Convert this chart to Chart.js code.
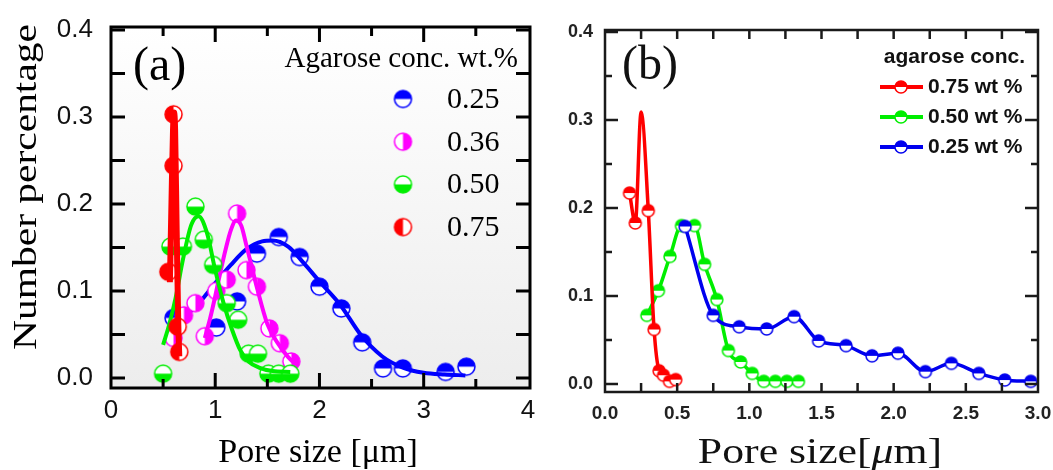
<!DOCTYPE html>
<html>
<head>
<meta charset="utf-8">
<title>Pore size distributions</title>
<script src="https://cdn.jsdelivr.net/npm/chart.js@4.4.1/dist/chart.umd.min.js"></script>
<style>
  body { margin: 0; background: #fff; }
  .panels { position: relative; width: 1053px; height: 470px; }
  #chartA { position: absolute; left: 0; top: 0; }
  #chartB { position: absolute; left: 545px; top: 0; }
</style>
</head>
<body>
<div class="panels">
  <canvas id="chartA" width="548" height="470"></canvas>
  <canvas id="chartB" width="508" height="470"></canvas>
</div>
<script>
// ---------- panel (a): measured points ----------
const a25x = [0.60, 1.01, 1.21, 1.40, 1.61, 1.81, 2.00, 2.21, 2.41, 2.61, 2.80, 3.21, 3.41];
const a25y = [0.069, 0.058, 0.088, 0.143, 0.162, 0.139, 0.105, 0.080, 0.041, 0.011, 0.011, 0.007, 0.013];
const a36x = [0.60, 0.70, 0.81, 0.90, 1.01, 1.11, 1.21, 1.30, 1.40, 1.52, 1.62, 1.73];
const a36y = [0.046, 0.072, 0.086, 0.048, 0.100, 0.113, 0.189, 0.124, 0.105, 0.057, 0.040, 0.019];
const a50x = [0.50, 0.57, 0.69, 0.81, 0.89, 0.98, 1.11, 1.22, 1.32, 1.41, 1.51, 1.61, 1.72];
const a50y = [0.005, 0.151, 0.151, 0.197, 0.159, 0.130, 0.086, 0.067, 0.028, 0.028, 0.005, 0.005, 0.005];
const a75x = [0.55, 0.60, 0.60, 0.64, 0.655];
const a75y = [0.122, 0.244, 0.303, 0.059, 0.030];

// ---------- panel (a): fitted curves ----------
const fit25x = [0.57, 0.70, 0.85, 1.00, 1.15, 1.30, 1.45, 1.55, 1.70, 1.85, 2.00, 2.20, 2.40, 2.60, 2.80, 3.00, 3.20, 3.40];
const fit25y = [0.056, 0.070, 0.087, 0.109, 0.130, 0.148, 0.157, 0.158, 0.151, 0.132, 0.111, 0.084, 0.049, 0.025, 0.012, 0.006, 0.004, 0.003];
const fit36x = [0.90, 0.95, 1.00, 1.05, 1.10, 1.15, 1.20, 1.25, 1.30, 1.35, 1.40, 1.50, 1.60, 1.70, 1.78];
const fit36y = [0.046, 0.068, 0.094, 0.122, 0.148, 0.170, 0.181, 0.175, 0.152, 0.128, 0.104, 0.062, 0.040, 0.024, 0.015];
const fit50x = [0.50, 0.56, 0.62, 0.69, 0.77, 0.84, 0.92, 1.00, 1.08, 1.16, 1.24, 1.32, 1.42, 1.55, 1.72];
const fit50y = [0.038, 0.062, 0.092, 0.136, 0.176, 0.186, 0.167, 0.124, 0.086, 0.056, 0.032, 0.019, 0.012, 0.008, 0.007];
const fit75x = [0.565, 0.580, 0.595, 0.605, 0.615, 0.630, 0.645, 0.655];
const fit75y = [0.110, 0.200, 0.285, 0.305, 0.285, 0.170, 0.065, 0.025];

// ---------- panel (b): measured points (joined) ----------
const b75x = [0.17, 0.21, 0.25, 0.30, 0.34, 0.375, 0.405, 0.447, 0.49];
const b75y = [0.217, 0.183, 0.309, 0.197, 0.062, 0.015, 0.010, 0.003, 0.005];
const b50x = [0.29, 0.37, 0.45, 0.53, 0.62, 0.69, 0.775, 0.855, 0.94, 1.02, 1.10, 1.18, 1.26, 1.34];
const b50y = [0.078, 0.106, 0.145, 0.180, 0.180, 0.136, 0.096, 0.038, 0.025, 0.012, 0.003, 0.003, 0.003, 0.003];
const b25x = [0.555, 0.75, 0.93, 1.12, 1.31, 1.48, 1.67, 1.85, 2.03, 2.22, 2.40, 2.59, 2.77, 2.95];
const b25y = [0.179, 0.078, 0.065, 0.0625, 0.0765, 0.049, 0.0436, 0.032, 0.035, 0.014, 0.0235, 0.012, 0.0045, 0.003];

// ---------- labels and ticks ----------
const aLegendTitle = 'Agarose conc. wt.%';
const aLegendLabels = ['0.25', '0.36', '0.50', '0.75'];
const bLegendTitle = 'agarose conc.';
const bLegendLabels = ['0.75 wt %', '0.50 wt %', '0.25 wt %'];
const aXTicks = [0, 1, 2, 3, 4];
const aXMinor = [0.5, 1.5, 2.5, 3.5];
const aYTicks = [0, 0.1, 0.2, 0.3, 0.4];
const aYMinor = [0, 0.05, 0.1, 0.15, 0.2, 0.25, 0.3, 0.35, 0.4];
const bXTicks = [0, 0.5, 1.0, 1.5, 2.0, 2.5, 3.0];
const bXMinor = [0.25, 0.5, 0.75, 1.0, 1.25, 1.5, 1.75, 2.0, 2.25, 2.5, 2.75];
const bYTicks = [0, 0.1, 0.2, 0.3, 0.4];
const bYMinor = [0.05, 0.15, 0.25, 0.35];

const serif = "'Liberation Serif', 'Times New Roman', serif";
const sans = "'Liberation Sans', Arial, sans-serif";

function pts(xs, ys) {
    return xs.map((x, i) => ({ x: x, y: ys[i] }));
}

// half filled circle used as point style
function halfDot(color, side, r) {
    const c = document.createElement('canvas');
    const s = Math.ceil(2 * r + 4);
    c.width = c.height = s;
    const g = c.getContext('2d');
    const m = s / 2;
    g.beginPath();
    g.arc(m, m, r, 0, 2 * Math.PI);
    g.fillStyle = '#fff';
    g.fill();
    const start = { top: Math.PI, bottom: 0, left: Math.PI / 2, right: -Math.PI / 2 }[side];
    g.beginPath();
    g.moveTo(m, m);
    g.arc(m, m, r, start, start + Math.PI);
    g.closePath();
    g.fillStyle = color;
    g.fill();
    g.beginPath();
    g.arc(m, m, r, 0, 2 * Math.PI);
    g.lineWidth = 1.5;
    g.strokeStyle = color;
    g.stroke();
    return c;
}

function fixTicks(values) {
    return function(scale) {
        scale.ticks = values.map(v => ({ value: v }));
    };
}

// fixed box sizes, no extra room for the end labels
function fixSize(prop, size) {
    return function(s) {
        s[prop] = size;
        s.paddingLeft = s.paddingRight = s.paddingTop = s.paddingBottom = 0;
    };
}

function innerTicks(ctx, chart, axis, values, len) {
    const area = chart.chartArea;
    const scale = chart.scales[axis];
    ctx.beginPath();
    values.forEach(v => {
        const p = scale.getPixelForValue(v);
        if (axis === 'x') {
            ctx.moveTo(p, area.top); ctx.lineTo(p, area.top + len);
            ctx.moveTo(p, area.bottom); ctx.lineTo(p, area.bottom - len);
        } else {
            ctx.moveTo(area.left, p); ctx.lineTo(area.left + len, p);
            ctx.moveTo(area.right, p); ctx.lineTo(area.right - len, p);
        }
    });
    ctx.stroke();
}

const BLUE = '#0000ff', MAGENTA = '#ff00ff', GREEN = '#00ee00', RED = '#ff0000';

const dotsA = {
    d25: halfDot(BLUE, 'top', 8.5),
    d36: halfDot(MAGENTA, 'right', 8.5),
    d50: halfDot(GREEN, 'bottom', 8.5),
    d75: halfDot(RED, 'left', 8.5)
};
const dotsB = {
    d75: halfDot(RED, 'top', 6),
    d50: halfDot(GREEN, 'top', 6),
    d25: halfDot('#0000ee', 'top', 6)
};

function fitLine(label, xs, ys, color, width) {
    return {
        label: label, data: pts(xs, ys), showLine: true,
        borderColor: color, borderWidth: width, pointRadius: 0,
        cubicInterpolationMode: 'monotone', fill: false
    };
}
function dotSet(label, xs, ys, img) {
    return {
        label: label, data: pts(xs, ys), showLine: false,
        pointStyle: img, pointRadius: 8, pointHoverRadius: 8
    };
}

// ---------- panel (a) ----------
const decorA = {
    id: 'decorA',
    beforeDatasetsDraw(chart) {
        const ctx = chart.ctx, a = chart.chartArea;
        const grad = ctx.createLinearGradient(0, a.top, 0, a.bottom);
        grad.addColorStop(0, '#ffffff');
        grad.addColorStop(1, '#ededed');
        ctx.save();
        ctx.fillStyle = grad;
        ctx.fillRect(a.left, a.top, a.right - a.left, a.bottom - a.top);
        ctx.restore();
    },
    afterDatasetsDraw(chart) {
        const ctx = chart.ctx, a = chart.chartArea;
        ctx.save();
        ctx.strokeStyle = '#000';
        ctx.lineWidth = 3;
        ctx.strokeRect(a.left, a.top, a.right - a.left, a.bottom - a.top);
        innerTicks(ctx, chart, 'x', aXTicks.slice(1, -1), 15);
        innerTicks(ctx, chart, 'x', aXMinor, 9);
        innerTicks(ctx, chart, 'y', aYMinor, 14);

        ctx.fillStyle = '#000';
        // panel tag
        ctx.font = '48px ' + serif;
        ctx.textAlign = 'left';
        ctx.textBaseline = 'alphabetic';
        ctx.fillText('(a)', 133, 80);

        // legend
        ctx.font = '29px ' + serif;
        ctx.textAlign = 'right';
        ctx.fillText(aLegendTitle, 518, 67);
        const imgs = [dotsA.d25, dotsA.d36, dotsA.d50, dotsA.d75];
        ctx.font = '30px ' + serif;
        ctx.textAlign = 'left';
        aLegendLabels.forEach((t, i) => {
            const y = 99 + i * 42.7;
            const img = imgs[i];
            ctx.drawImage(img, 403 - img.width / 2, y - img.height / 2);
            ctx.fillText(t, 447, y + 9);
        });

        // axis titles
        ctx.font = '34px ' + serif;
        ctx.textAlign = 'center';
        ctx.fillText('Pore size [\u03bcm]', 318, 462);

        ctx.translate(36, 187);
        ctx.rotate(-Math.PI / 2);
        ctx.scale(1.22, 1);
        ctx.fillText('Number percentage', 0, 0);
        ctx.restore();
    }
};

new Chart(document.getElementById('chartA'), {
    type: 'scatter',
    data: {
        datasets: [
            fitLine('fit 0.75', fit75x, fit75y, RED, 6),
            dotSet('0.75', a75x, a75y, dotsA.d75),
            fitLine('fit 0.50', fit50x, fit50y, GREEN, 4),
            dotSet('0.50', a50x, a50y, dotsA.d50),
            fitLine('fit 0.36', fit36x, fit36y, MAGENTA, 4),
            dotSet('0.36', a36x, a36y, dotsA.d36),
            fitLine('fit 0.25', fit25x, fit25y, BLUE, 4),
            dotSet('0.25', a25x, a25y, dotsA.d25)
        ]
    },
    options: {
        responsive: false,
        animation: false,
        devicePixelRatio: 1,
        layout: { padding: { top: 27, right: 18, left: 0, bottom: 0 } },
        plugins: { legend: { display: false }, tooltip: { enabled: false } },
        scales: {
            x: {
                type: 'linear', min: 0, max: 4.02,
                grid: { display: false, drawTicks: false },
                border: { display: false },
                ticks: {
                    autoSkip: false, maxRotation: 0, padding: 10, color: '#111',
                    font: { family: sans, size: 26, lineHeight: 1 },
                    callback: v => String(v)
                },
                afterBuildTicks: fixTicks(aXTicks),
                afterFit: fixSize('height', 82)
            },
            y: {
                type: 'linear', min: -0.0115, max: 0.4034,
                grid: { display: false, drawTicks: false },
                border: { display: false },
                ticks: {
                    autoSkip: false, padding: 18, color: '#111',
                    font: { family: sans, size: 26, lineHeight: 1 },
                    callback: v => v.toFixed(1)
                },
                afterBuildTicks: fixTicks(aYTicks),
                afterFit: fixSize('width', 111)
            }
        }
    },
    plugins: [decorA]
});

// ---------- panel (b) ----------
const decorB = {
    id: 'decorB',
    afterDatasetsDraw(chart) {
        const ctx = chart.ctx, a = chart.chartArea;
        ctx.save();
        ctx.strokeStyle = '#1a1a1a';
        ctx.lineWidth = 2.5;
        ctx.strokeRect(a.left, a.top, a.right - a.left, a.bottom - a.top);
        innerTicks(ctx, chart, 'x', bXMinor, 9);
        innerTicks(ctx, chart, 'y', bYTicks, 13);
        innerTicks(ctx, chart, 'y', bYMinor, 7);

        ctx.fillStyle = '#111';
        ctx.font = '48px ' + serif;
        ctx.textAlign = 'left';
        ctx.textBaseline = 'alphabetic';
        ctx.fillText('(b)', 77, 79);

        // legend
        ctx.font = 'bold 21px ' + sans;
        ctx.textAlign = 'right';
        ctx.fillText(bLegendTitle, 480, 63);
        const colors = [RED, GREEN, '#0000ee'];
        const imgs = [dotsB.d75, dotsB.d50, dotsB.d25];
        ctx.textAlign = 'left';
        bLegendLabels.forEach((t, i) => {
            const y = 87 + i * 30;
            ctx.strokeStyle = colors[i];
            ctx.lineWidth = 4;
            ctx.beginPath();
            ctx.moveTo(335, y);
            ctx.lineTo(378, y);
            ctx.stroke();
            ctx.drawImage(imgs[i], 356 - imgs[i].width / 2, y - imgs[i].height / 2);
            ctx.fillText(t, 383, y + 6);
        });

        // x title with italic mu, stretched like the source
        const parts = [['Pore size[', '35px ' + serif], ['\u03bc', 'italic 35px ' + serif], ['m]', '35px ' + serif]];
        let total = 0;
        parts.forEach(p => { ctx.font = p[1]; total += ctx.measureText(p[0]).width; });
        ctx.translate(275, 463);
        ctx.scale(1.25, 1);
        let x = -total / 2;
        parts.forEach(p => {
            ctx.font = p[1];
            ctx.fillText(p[0], x, 0);
            x += ctx.measureText(p[0]).width;
        });
        ctx.restore();
    }
};

function joined(label, xs, ys, color, img, radii) {
    return {
        label: label, data: pts(xs, ys), showLine: true,
        borderColor: color, borderWidth: 3.5,
        pointStyle: img, pointRadius: radii || 6,
        cubicInterpolationMode: 'monotone', fill: false
    };
}

new Chart(document.getElementById('chartB'), {
    type: 'scatter',
    data: {
        datasets: [
            joined('0.75 wt %', b75x, b75y, RED, dotsB.d75, b75x.map((v, i) => i === 2 ? 0 : 6)),
            joined('0.25 wt %', b25x, b25y, '#0000ee', dotsB.d25),
            joined('0.50 wt %', b50x, b50y, GREEN, dotsB.d50)
        ]
    },
    options: {
        responsive: false,
        animation: false,
        devicePixelRatio: 1,
        layout: { padding: { top: 30, right: 15, left: 0, bottom: 0 } },
        plugins: { legend: { display: false }, tooltip: { enabled: false } },
        scales: {
            x: {
                type: 'linear', min: 0, max: 3.0,
                grid: { display: false, drawTicks: false },
                border: { display: false },
                ticks: {
                    autoSkip: false, maxRotation: 0, padding: 12, color: '#222',
                    font: { family: sans, size: 19, weight: 'bold', lineHeight: 1 },
                    callback: v => v.toFixed(1)
                },
                afterBuildTicks: fixTicks(bXTicks),
                afterFit: fixSize('height', 78)
            },
            y: {
                type: 'linear', min: -0.0091, max: 0.4023,
                grid: { display: false, drawTicks: false },
                border: { display: false },
                ticks: {
                    autoSkip: false, padding: 12, color: '#222',
                    font: { family: sans, size: 18, weight: 'bold', lineHeight: 1 },
                    callback: v => v.toFixed(1)
                },
                afterBuildTicks: fixTicks(bYTicks),
                afterFit: fixSize('width', 60)
            }
        }
    },
    plugins: [decorB]
});
</script>
</body>
</html>
